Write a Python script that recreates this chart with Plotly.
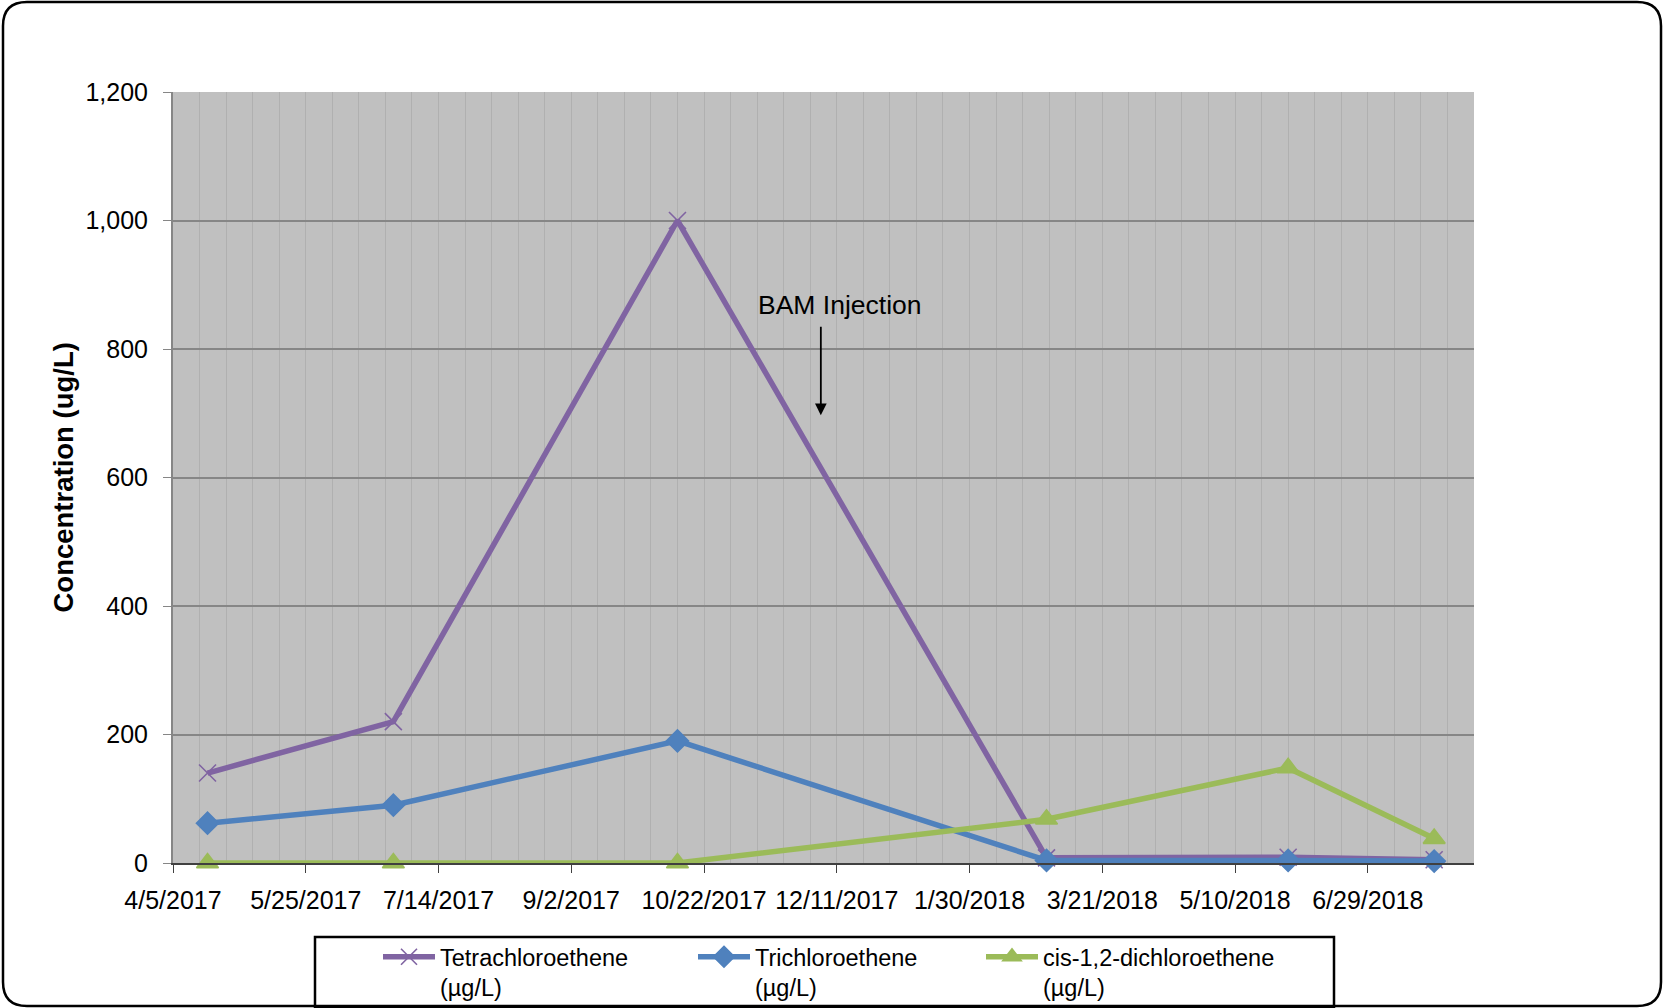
import plotly.graph_objects as go

# ---------------- data ----------------
dates = ["2017-04-18", "2017-06-27", "2017-10-12", "2018-02-28", "2018-05-30", "2018-07-24"]
pce = [140, 220, 1000, 8, 9, 5]
tce = [62, 90, 190, 4, 4, 3]
dce = [0, 0, 0, 68, 148, 38]
series_names = ["Tetrachloroethene<br>(µg/L)", "Trichloroethene<br>(µg/L)", "cis-1,2-dichloroethene<br>(µg/L)"]
y_ticks = [0, 200, 400, 600, 800, 1000, 1200]
x_range = ["2017-04-05", "2018-08-08"]
arrow_date = "2017-12-05"
arrow_tip = 697

# ---------------- layout helpers ----------------
W, H = 1663, 1008
L, R, T, B = 173, 1474, 92, 863
PW, PH = R - L, B - T


def px(x):
    return (x - L) / PW


def py(y):
    return (B - y) / PH


FONT = "Liberation Sans, Arial, sans-serif"
DAY = 86400000

fig = go.Figure()
colors = ["#8064A2", "#4F81BD", "#9BBB59"]
symbols = ["x-thin", "diamond", "triangle-up"]
msize = [17, 17, 19]
for i, (vals, name) in enumerate(zip([pce, tce, dce], series_names)):
    fig.add_trace(go.Scatter(
        x=dates, y=vals, name=name, mode="lines+markers",
        line=dict(color=colors[i], width=5.5),
        marker=dict(symbol=symbols[i], size=msize[i], color=colors[i],
                    line=dict(color=colors[i], width=1.6)),
        cliponaxis=False,
        legend=["legend", "legend2", "legend3"][i],
    ))

leg_common = dict(orientation="v", yanchor="top", y=1 - 935 / H, yref="container", xref="container",
                  xanchor="left", bgcolor="rgba(0,0,0,0)", borderwidth=0, valign="top",
                  font=dict(family=FONT, size=23.5, color="#000000"), itemwidth=52)

fig.update_layout(
    width=W, height=H,
    margin=dict(l=L, r=W - R, t=T, b=H - B, autoexpand=False),
    paper_bgcolor="white", plot_bgcolor="#C0C0C0",
    font=dict(family=FONT, size=25, color="#000000"),
    showlegend=True,
    legend=dict(leg_common, x=378 / W),
    legend2=dict(leg_common, x=693 / W),
    legend3=dict(leg_common, x=981 / W),
    xaxis=dict(
        type="date", range=x_range, tick0="2017-04-05", dtick=50 * DAY,
        tickformat="%-m/%-d/%Y", ticks="outside", ticklen=8, tickcolor="#404040",
        showline=True, linecolor="#404040", linewidth=2,
        showgrid=True, gridcolor="#B0B0B0", gridwidth=1.3,
        minor=dict(tick0="2017-04-05", dtick=10 * DAY, showgrid=True,
                   gridcolor="#B0B0B0", gridwidth=1.3, ticklen=0),
        tickfont=dict(size=25), ticklabelstandoff=6, zeroline=False,
    ),
    yaxis=dict(
        range=[0, 1200], tickvals=y_ticks, tickformat=",d",
        ticks="outside", ticklen=8, tickcolor="#868686",
        showline=True, linecolor="#868686", linewidth=2,
        showgrid=True, gridcolor="#868686", gridwidth=2,
        tickfont=dict(size=25), zeroline=False, ticklabelstandoff=10,
    ),
)

# y axis title
fig.add_annotation(xref="paper", yref="paper", x=px(63), y=0.5, text="<b>Concentration (ug/L)</b>",
                   textangle=-90, showarrow=False, font=dict(size=27.5, family=FONT),
                   xanchor="center", yanchor="middle")

# BAM Injection label and arrow
fig.add_annotation(xref="paper", yref="paper", x=px(840), y=py(305), text="BAM Injection",
                   showarrow=False, font=dict(size=26.5, family=FONT), xanchor="center", yanchor="middle")
fig.add_annotation(x=arrow_date, y=arrow_tip, xref="x", yref="y", text="", showarrow=True,
                   ax=0, ay=-90, arrowhead=2, arrowsize=1.3, arrowwidth=1.8, arrowcolor="#000000")


# outer rounded border
def rrect(x0, y0, x1, y1, r):
    pts = [
        ("M", [(x0 + r, y0)]), ("L", [(x1 - r, y0)]), ("Q", [(x1, y0), (x1, y0 + r)]),
        ("L", [(x1, y1 - r)]), ("Q", [(x1, y1), (x1 - r, y1)]), ("L", [(x0 + r, y1)]),
        ("Q", [(x0, y1), (x0, y1 - r)]), ("L", [(x0, y0 + r)]), ("Q", [(x0, y0), (x0 + r, y0)]),
    ]
    s = ""
    for cmd, ps in pts:
        s += cmd + " ".join(f"{px(a):.5f},{py(b):.5f}" for a, b in ps) + " "
    return s + "Z"


fig.add_shape(type="path", xref="paper", yref="paper", path=rrect(3, 2, 1661, 1006, 24),
              line=dict(color="#000000", width=2.5), layer="above")
# legend box
fig.add_shape(type="rect", xref="paper", yref="paper", x0=px(315), x1=px(1334), y0=py(1007), y1=py(937),
              line=dict(color="#000000", width=2.5))

fig.write_html("out.html")
